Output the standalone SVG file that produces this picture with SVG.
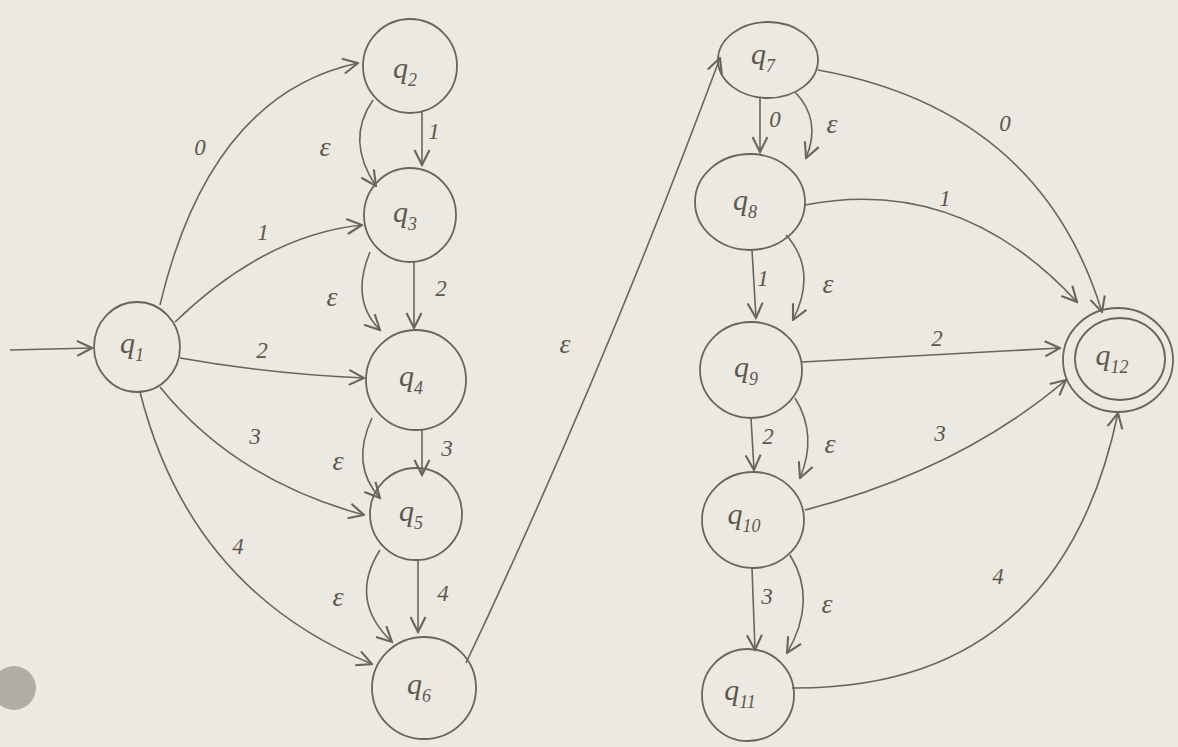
<svg xmlns="http://www.w3.org/2000/svg" width="1178" height="747" viewBox="0 0 1178 747">
<defs>
<marker id="arr" markerUnits="userSpaceOnUse" markerWidth="18" markerHeight="18" viewBox="0 0 12 12" refX="11" refY="6" orient="auto">
<path d="M1,1 L11,6 L1,11" fill="none" stroke="#6b6458" stroke-width="1.4"/>
</marker>
<style>
.n{fill:none;stroke:#6b6458;stroke-width:1.8}
.e{fill:none;stroke:#6b6458;stroke-width:1.6;marker-end:url(#arr)}
.q{font-family:"Liberation Serif",serif;font-style:italic;font-size:30px;fill:#5d574c;text-anchor:middle}
.s{font-size:18px}
.l{font-family:"Liberation Serif",serif;font-style:italic;font-size:23px;fill:#5d574c;text-anchor:middle}
.p{font-size:28px}
</style>
</defs>
<rect width="1178" height="747" fill="#ece9e3"/>
<circle cx="14" cy="688" r="22" fill="#b3aea5"/>
<g id="connectors">
<path class="e" d="M10,350 L92,348"/>
<path class="e" d="M160,305 Q210,95 358,63"/>
<path class="e" d="M175,322 Q265,235 362,225"/>
<path class="e" d="M180,358 Q270,374 364,378"/>
<path class="e" d="M160,387 Q235,480 364,515"/>
<path class="e" d="M140,392 Q190,590 372,664"/>
<path class="e" d="M422,112 L422,165"/>
<path class="e" d="M373,100 Q345,140 376,186"/>
<path class="e" d="M414,262 L414,328"/>
<path class="e" d="M370,252 Q350,300 380,330"/>
<path class="e" d="M422,430 L422,475"/>
<path class="e" d="M372,418 Q350,465 380,498"/>
<path class="e" d="M418,560 L418,632"/>
<path class="e" d="M380,550 Q348,600 392,642"/>
<path class="e" d="M466,663 Q600,380 720,58"/>
<path class="e" d="M760,98 L760,152"/>
<path class="e" d="M795,92 Q822,120 806,158"/>
<path class="e" d="M818,70 Q1040,110 1102,312"/>
<path class="e" d="M805,205 Q960,175 1077,302"/>
<path class="e" d="M752,250 L756,318"/>
<path class="e" d="M786,235 Q818,270 793,320"/>
<path class="e" d="M802,362 L1060,348"/>
<path class="e" d="M751,418 L754,470"/>
<path class="e" d="M795,398 Q818,435 800,478"/>
<path class="e" d="M805,510 Q960,470 1066,380"/>
<path class="e" d="M752,568 L755,650"/>
<path class="e" d="M790,555 Q818,600 787,653"/>
<path class="e" d="M792,688 Q1060,690 1118,413"/>
<text class="l" x="200" y="155">0</text>
<text class="l" x="263" y="240">1</text>
<text class="l" x="262" y="358">2</text>
<text class="l" x="255" y="444">3</text>
<text class="l" x="238" y="554">4</text>
<text class="l" x="434" y="139">1</text>
<text class="l p" x="325" y="156">ε</text>
<text class="l" x="441" y="296">2</text>
<text class="l p" x="332" y="306">ε</text>
<text class="l" x="447" y="456">3</text>
<text class="l p" x="338" y="470">ε</text>
<text class="l" x="443" y="601">4</text>
<text class="l p" x="338" y="606">ε</text>
<text class="l p" x="565" y="353">ε</text>
<text class="l" x="775" y="127">0</text>
<text class="l p" x="832" y="133">ε</text>
<text class="l" x="1005" y="131">0</text>
<text class="l" x="945" y="206">1</text>
<text class="l" x="763" y="286">1</text>
<text class="l p" x="828" y="293">ε</text>
<text class="l" x="937" y="346">2</text>
<text class="l" x="768" y="444">2</text>
<text class="l p" x="830" y="453">ε</text>
<text class="l" x="940" y="441">3</text>
<text class="l" x="767" y="604">3</text>
<text class="l p" x="827" y="613">ε</text>
<text class="l" x="998" y="584">4</text>
</g>
<g id="q1"><ellipse class="n" cx="137" cy="347" rx="43" ry="45"/><text class="q" x="132" y="353">q<tspan class="s" dy="8">1</tspan></text></g>
<g id="q2"><ellipse class="n" cx="410" cy="66" rx="47" ry="47"/><text class="q" x="405" y="78">q<tspan class="s" dy="8">2</tspan></text></g>
<g id="q3"><ellipse class="n" cx="410" cy="215" rx="46" ry="47"/><text class="q" x="405" y="222">q<tspan class="s" dy="8">3</tspan></text></g>
<g id="q4"><ellipse class="n" cx="416" cy="380" rx="50" ry="50"/><text class="q" x="411" y="386">q<tspan class="s" dy="8">4</tspan></text></g>
<g id="q5"><ellipse class="n" cx="416" cy="514" rx="46" ry="46"/><text class="q" x="411" y="521">q<tspan class="s" dy="8">5</tspan></text></g>
<g id="q6"><ellipse class="n" cx="424" cy="688" rx="52" ry="51"/><text class="q" x="419" y="694">q<tspan class="s" dy="8">6</tspan></text></g>
<g id="q7"><ellipse class="n" cx="768" cy="60" rx="50" ry="38"/><text class="q" x="763" y="64">q<tspan class="s" dy="8">7</tspan></text></g>
<g id="q8"><ellipse class="n" cx="750" cy="202" rx="55" ry="48"/><text class="q" x="745" y="210">q<tspan class="s" dy="8">8</tspan></text></g>
<g id="q9"><ellipse class="n" cx="751" cy="370" rx="51" ry="48"/><text class="q" x="746" y="377">q<tspan class="s" dy="8">9</tspan></text></g>
<g id="q10"><ellipse class="n" cx="753" cy="520" rx="51" ry="48"/><text class="q" x="744" y="524">q<tspan class="s" dy="8">10</tspan></text></g>
<g id="q11"><ellipse class="n" cx="748" cy="695" rx="46" ry="46"/><text class="q" x="740" y="700">q<tspan class="s" dy="8">11</tspan></text></g>
<g id="q12"><ellipse class="n" cx="1118" cy="360" rx="55" ry="52"/><ellipse class="n" cx="1120" cy="359" rx="45" ry="41"/><text class="q" x="1112" y="365">q<tspan class="s" dy="8">12</tspan></text></g>
</svg>
